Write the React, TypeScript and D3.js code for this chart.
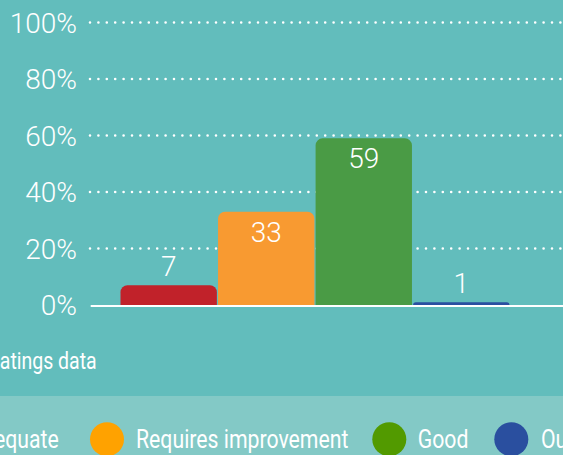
import React from "react";
import * as d3 from "d3";

const categories = ["Inadequate", "Requires improvement", "Good", "Outstanding"];
const values = [7, 33, 59, 1];
const barColors = ["#C1222A", "#F89A31", "#4A9B45", "#2B4FA0"];
const legendColors = ["#C1222A", "#FFA200", "#529A00", "#2A4F9F"];
const yTicks = [0, 20, 40, 60, 80, 100];
const caption = "Ratings data";

const W = 563;
const H = 455;
const FONT = "Roboto, 'Open Sans', sans-serif";

function topRoundedRect(x: number, y: number, w: number, h: number, r: number) {
  const rr = Math.min(r, h, w / 2);
  const p = d3.path();
  p.moveTo(x, y + h);
  p.lineTo(x, y + rr);
  p.arcTo(x, y, x + rr, y, rr);
  p.lineTo(x + w - rr, y);
  p.arcTo(x + w, y, x + w, y + rr, rr);
  p.lineTo(x + w, y + h);
  p.closePath();
  return p.toString();
}

export default function App() {
  const y = d3.scaleLinear().domain([0, 100]).range([305, 22.5]);
  const x = d3
    .scaleBand<string>()
    .domain(categories)
    .range([120.5, 509.5])
    .paddingInner(0.012)
    .paddingOuter(0);

  const gridX0 = 90;
  const gridX1 = W + 10;

  const legendCy = 439.3;
  const legendR = 17;
  const legendItems = [
    { circleX: -40, textX: 58.7, anchor: "end" },
    { circleX: 107, textX: 136, anchor: "start" },
    { circleX: 389.3, textX: 417.7, anchor: "start" },
    { circleX: 511.3, textX: 541, anchor: "start" },
  ];
  const legendCondense = 0.85;
  const captionCondense = 0.83;

  return (
    <div style={{ position: "absolute", left: 0, top: 0 }}>
      <svg width={W} height={H} style={{ display: "block" }}>
        <rect x={0} y={0} width={W} height={396} fill="#62BDBC" />
        <rect x={0} y={396} width={W} height={H - 396} fill="#83C9C6" />

        {yTicks
          .filter((t) => t > 0)
          .map((t) => (
            <line
              key={t}
              x1={gridX0}
              x2={gridX1}
              y1={y(t)}
              y2={y(t)}
              stroke="#FFFFFF"
              strokeWidth={2.6}
              strokeLinecap="round"
              strokeDasharray="0 8.4"
            />
          ))}

        {yTicks.map((t) => (
          <text
            key={t}
            x={77}
            y={y(t) + 10}
            textAnchor="end"
            fill="#FFFFFF"
            fontFamily={FONT}
            fontWeight={300}
            fontSize={28}
          >
            {t}%
          </text>
        ))}

        {categories.map((c, i) => {
          const bx = x(c) as number;
          const bw = x.bandwidth();
          const top = y(values[i]);
          const h = y(0) - top;
          return (
            <path key={c} d={topRoundedRect(bx, top, bw, h, 7)} fill={barColors[i]} />
          );
        })}

        <line x1={90.7} x2={gridX1} y1={306} y2={306} stroke="#FFFFFF" strokeWidth={2} />

        {categories.map((c, i) => {
          const bx = x(c) as number;
          const bw = x.bandwidth();
          const top = y(values[i]);
          const h = y(0) - top;
          const inside = h > 40;
          return (
            <text
              key={c}
              x={bx + bw / 2}
              y={inside ? top + 30 : top - 9}
              textAnchor="middle"
              fill="#FFFFFF"
              fontFamily={FONT}
              fontWeight={300}
              fontSize={28}
            >
              {values[i]}
            </text>
          );
        })}

        <g transform={`translate(96.7,368.5) scale(${captionCondense},1)`}>
          <text x={0} y={0} textAnchor="end" fill="#FFFFFF" fontFamily={FONT} fontSize={23.5}>
            {caption}
          </text>
        </g>

        {categories.map((c, i) => {
          const it = legendItems[i];
          return (
            <g key={c}>
              <circle cx={it.circleX} cy={legendCy} r={legendR} fill={legendColors[i]} />
              <g transform={`translate(${it.textX},448.3) scale(${legendCondense},1)`}>
                <text
                  x={0}
                  y={0}
                  textAnchor={it.anchor as any}
                  fill="#FFFFFF"
                  fontFamily={FONT}
                  fontSize={25}
                >
                  {c}
                </text>
              </g>
            </g>
          );
        })}
      </svg>
    </div>
  );
}
